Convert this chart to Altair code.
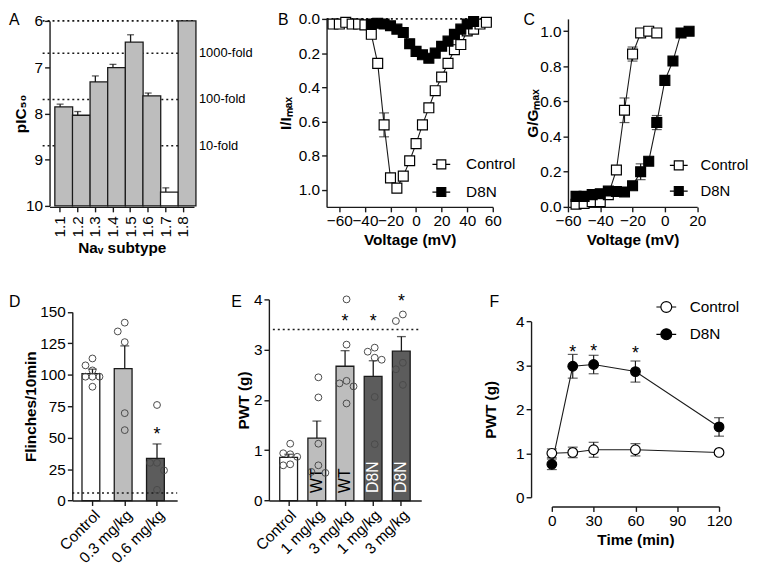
import altair as alt
import pandas as pd

FONT = "Liberation Sans"
INK = "#1a1a1a"
LIGHT = "#bdbdbd"
DARK = "#5c5c5c"

# ---------------- data ----------------
# A: NaV subtype selectivity
nav_subtypes = ["1.1", "1.2", "1.3", "1.4", "1.5", "1.6", "1.7", "1.8"]
nav_pic50 = [7.86, 8.04, 7.32, 7.01, 6.46, 7.62, 9.70, 6.00]
nav_sem = [0.06, 0.08, 0.13, 0.07, 0.16, 0.06, 0.09, 0.0]
fold_levels = [6.0, 6.7, 7.7, 8.7]
fold_labels = ["", "1000-fold", "100-fold", "10-fold"]

# B: I/V relationship
iv_volt_ctrl = [-65, -60, -55, -50, -45, -40, -35, -30, -25, -20, -15, -10, -5,
                0, 5, 10, 15, 20, 25, 30, 35, 40, 45, 50, 55]
iv_ctrl = [0.03, 0.03, 0.02, 0.03, 0.03, 0.035, 0.09, 0.26, 0.62, 0.93, 0.99, 0.92, 0.83,
           0.73, 0.62, 0.52, 0.42, 0.34, 0.26, 0.18, 0.15, 0.07, 0.06, 0.03, 0.02]
iv_ctrl_sem = [0, 0, 0, 0, 0, 0, 0, 0.02, 0.07, 0.02, 0, 0, 0,
               0, 0, 0, 0, 0, 0, 0, 0, 0, 0, 0, 0]
iv_volt_d8n = [-35, -30, -25, -20, -15, -10, -5, 0, 5, 10, 15, 20, 25, 30, 35, 40, 45]
iv_d8n = [0.03, 0.025, 0.03, 0.04, 0.06, 0.08, 0.145, 0.19, 0.21, 0.23, 0.20, 0.16,
          0.13, 0.09, 0.06, 0.03, 0.015]
iv_d8n_sem = [0, 0, 0, 0, 0, 0, 0, 0, 0, 0, 0, 0, 0, 0, 0, 0, 0]

# C: G/V relationship
gv_volt_ctrl = [-55, -50, -45, -40, -35, -30, -25, -20, -15, -10, -5]
gv_ctrl = [0.015, 0.02, 0.03, 0.03, 0.07, 0.21, 0.55, 0.87, 0.99, 1.0, 0.99]
gv_ctrl_sem = [0, 0, 0, 0, 0, 0.02, 0.07, 0.04, 0, 0, 0]
gv_volt_d8n = [-55, -50, -45, -40, -35, -30, -25, -20, -15, -10, -5, 0, 5, 10, 15]
gv_d8n = [0.06, 0.06, 0.07, 0.075, 0.09, 0.088, 0.085, 0.12, 0.20, 0.26, 0.48, 0.72,
          0.83, 0.99, 1.0]
gv_d8n_sem = [0, 0, 0, 0, 0, 0, 0, 0, 0.045, 0, 0.04, 0.02, 0, 0, 0]

# D: flinches
flinch_groups = ["Control", "0.3 mg/kg", "0.6 mg/kg"]
flinch_mean = [101, 105, 33.5]
flinch_sem = [3.5, 18, 11.5]
flinch_points = [[113, 107.5, 103.5, 98.5, 98.5, 98.5, 90.5],
                 [141.5, 134.5, 126, 69.5, 56],
                 [76, 30, 30, 24, 8.5]]
flinch_star_groups = ["0.6 mg/kg"]
flinch_star_y = [52]
flinch_baseline = 6

# E: PWT dose
pwt_keys = ["Control", "WT 1", "WT 3", "D8N 1", "D8N 3"]
pwt_labels = ["Control", "1 mg/kg", "3 mg/kg", "1 mg/kg", "3 mg/kg"]
pwt_geno = ["Control", "WT", "WT", "D8N", "D8N"]
pwt_mean = [0.86, 1.24, 2.67, 2.47, 2.97]
pwt_sem = [0.06, 0.34, 0.31, 0.31, 0.29]
pwt_points = [[1.13, 0.94, 0.92, 0.87, 0.72, 0.70],
              [2.45, 2.05, 1.13, 0.70, 0.57, 0.55],
              [4.0, 3.1, 2.38, 2.33, 2.27, 1.93],
              [3.04, 2.96, 2.84, 2.80, 2.06, 1.12],
              [3.70, 3.57, 2.74, 2.61, 2.30]]
pwt_star_keys = ["WT 3", "D8N 1", "D8N 3"]
pwt_star_y = [3.54, 3.54, 3.95]
pwt_baseline = 3.4

# F: time course
time_min = [0, 15, 30, 60, 120]
tc_ctrl = [1.0, 1.02, 1.08, 1.08, 1.02]
tc_ctrl_sem = [0.10, 0.12, 0.17, 0.14, 0.04]
tc_d8n = [0.75, 2.98, 3.02, 2.86, 1.60]
tc_d8n_sem = [0.12, 0.27, 0.21, 0.24, 0.21]
tc_star_t = [15, 30, 60]
tc_star_y = [3.27, 3.31, 3.25]


# ---------------- helpers ----------------
def letter(ch, dx, dy):
    return alt.Chart(pd.DataFrame({"t": [ch]})).mark_text(
        align="left", baseline="top", fontSize=16, font=FONT, color="black"
    ).encode(text="t:N", x=alt.value(dx), y=alt.value(dy))


def swarm(values, px_per_unit, min_px=10.0):
    order = sorted(range(len(values)), key=lambda i: -values[i])
    placed = []
    slots = ["C"] * len(values)
    for i in order:
        for s in ["C", "L", "R"]:
            ok = all(not (ps == s and abs(values[i] - pv) * px_per_unit < min_px)
                     for pv, ps in placed)
            if ok:
                slots[i] = s
                break
        placed.append((values[i], slots[i]))
    return slots


def series_df(volts, vals, sems, name):
    df = pd.DataFrame({"v": volts, "val": vals, "sem": sems})
    df["series"] = name
    df["lo"] = df["val"] - df["sem"]
    df["hi"] = df["val"] + df["sem"]
    return df


def xy_layers(df, X, Y, legend, shape, size, cap):
    base = alt.Chart(df)
    line = base.mark_line(color=INK, strokeWidth=1.1).encode(
        x=X("v:Q"), y=Y("val:Q"), detail="series:N")
    err = base.transform_filter("datum.sem > 0").mark_rule(
        color=INK, strokeWidth=1.2).encode(x=X("v:Q"), y=Y("lo:Q"), y2="hi:Q")
    caps = base.transform_filter("datum.sem > 0").transform_fold(
        ["lo", "hi"], as_=["end", "cy"]).mark_tick(
        color=INK, thickness=1.2, size=cap, orient="horizontal").encode(
        x=X("v:Q"), y=Y("cy:Q"))
    pts = base.mark_point(shape=shape, filled=True, size=size, stroke="black",
                          strokeWidth=1.2, opacity=1).encode(
        x=X("v:Q"), y=Y("val:Q"),
        fill=alt.Fill("series:N", scale=alt.Scale(domain=["Control", "D8N"],
                                                  range=["white", "black"]),
                      legend=legend))
    return [line, err, caps, pts]


def make_legend(x, y, path, size, offset, rowpad, fs=15.5):
    return alt.Legend(title=None, orient="none", legendX=x, legendY=y,
                      symbolType=path, symbolSize=size, symbolStrokeColor="black",
                      symbolStrokeWidth=1.2, labelFont=FONT, labelFontSize=fs,
                      labelColor="black", labelOffset=offset, rowPadding=rowpad,
                      padding=0)


def yaxis(values, title, tx, fmt=None):
    kw = dict(values=values, title=title, titleX=tx, titleBaseline="middle")
    if fmt:
        kw["format"] = fmt
    return alt.Axis(**kw)


SQ_PATH = "M-1,0H-0.5M0.5,0H1M-0.5,-0.5H0.5V0.5H-0.5Z"
CI_PATH = ("M-1,0H-0.55M0.55,0H1M0.55,0A0.55,0.55,0,1,1,-0.55,0"
           "A0.55,0.55,0,1,1,0.55,0Z")
TOP_LETTER_Y = -7
BOT_LETTER_Y = -5

# ---------------- Panel A ----------------
WA, HA = 146, 190
dfA = pd.DataFrame({"subtype": nav_subtypes, "pic50": nav_pic50, "sem": nav_sem})
dfA["top"] = dfA["pic50"] - dfA["sem"]
dfA["kind"] = ["sel" if s == "1.7" else "other" for s in nav_subtypes]
dfFold = pd.DataFrame({"level": fold_levels, "label": fold_labels})

xA = alt.X("subtype:N", sort=nav_subtypes,
           scale=alt.Scale(paddingInner=0.4, paddingOuter=0.3),
           axis=alt.Axis(title="Naᵥ subtype", labelAngle=270, labelPadding=4))


def YA(f):
    return alt.Y(f, scale=alt.Scale(domain=[6, 10], range=[2, 189], nice=False, zero=False),
                 axis=yaxis([6, 7, 8, 9, 10], "pIC₅₀", -29, "d"))


foldRule = alt.Chart(dfFold).mark_rule(strokeDash=[2, 3], strokeWidth=1.6, color=INK).encode(
    y=YA("level:Q"), x=alt.value(-7), x2=alt.value(WA + 2))
foldText = alt.Chart(dfFold).mark_text(align="left", baseline="middle", fontSize=13,
                                       font=FONT, color="black").encode(
    y=YA("level:Q"), x=alt.value(WA + 5), text="label:N")
barsA = alt.Chart(dfA).mark_bar(stroke=INK, strokeWidth=1.3).encode(
    x=xA, y=YA("pic50:Q"), y2=alt.datum(10),
    fill=alt.Fill("kind:N", scale=alt.Scale(domain=["sel", "other"], range=["white", LIGHT]),
                  legend=None))
errA = alt.Chart(dfA).transform_filter("datum.sem > 0").mark_rule(
    color=INK, strokeWidth=1.3).encode(x=xA, y=YA("pic50:Q"), y2="top:Q")
capA = alt.Chart(dfA).transform_filter("datum.sem > 0").mark_tick(
    color=INK, thickness=1.3, size=7).encode(x=xA, y=YA("top:Q"))
panelA = alt.layer(foldRule, foldText, barsA, errA, capA,
                   letter("A", -41, TOP_LETTER_Y)).properties(width=WA, height=HA)

# ---------------- Panel B ----------------
WB, HB = 168, 190
dfB = pd.concat([series_df(iv_volt_ctrl, iv_ctrl, iv_ctrl_sem, "Control"),
                 series_df(iv_volt_d8n, iv_d8n, iv_d8n_sem, "D8N")], ignore_index=True)


def XB(f):
    return alt.X(f, scale=alt.Scale(domain=[-70, 60], nice=False, zero=False),
                 axis=alt.Axis(values=[-60, -40, -20, 0, 20, 40, 60], title="Voltage (mV)"))


def YB(f):
    return alt.Y(f, scale=alt.Scale(domain=[0, 1.1], range=[0, HB], nice=False),
                 axis=yaxis([0, 0.2, 0.4, 0.6, 0.8, 1.0], "I/Iₘₐₓ", -41, ".1f"))


zeroB = alt.Chart(pd.DataFrame({"z": [0.0]})).mark_rule(
    strokeDash=[2, 3], strokeWidth=1.6, color=INK).encode(
    y=YB("z:Q"), x=alt.value(0), x2=alt.value(WB))
legB = make_legend(106, 137, SQ_PATH, 324, 15, 9)
panelB = alt.layer(zeroB, *xy_layers(dfB, XB, YB, legB, "square", 100, 10),
                   letter("B", -49, TOP_LETTER_Y)).properties(width=WB, height=HB)

# ---------------- Panel C ----------------
WC, HC = 130.6, 190
dfC = pd.concat([series_df(gv_volt_ctrl, gv_ctrl, gv_ctrl_sem, "Control"),
                 series_df(gv_volt_d8n, gv_d8n, gv_d8n_sem, "D8N")], ignore_index=True)


def XC(f):
    return alt.X(f, scale=alt.Scale(domain=[-60, 20], nice=False, zero=False),
                 axis=alt.Axis(values=[-60, -40, -20, 0, 20], title="Voltage (mV)"))


def YC(f):
    return alt.Y(f, scale=alt.Scale(domain=[0, 1.07], nice=False),
                 axis=yaxis([0, 0.2, 0.4, 0.6, 0.8, 1.0], "G/Gₘₐₓ", -36, ".1f"))


legC = make_legend(102, 138, SQ_PATH, 324, 12, 8, fs=15)
panelC = alt.layer(*xy_layers(dfC, XC, YC, legC, "square", 100, 10),
                   letter("C", -45, TOP_LETTER_Y)).properties(width=WC, height=HC)

# ---------------- Panel D ----------------
WD, HD = 106, 203.3
dfD = pd.DataFrame({"group": flinch_groups, "mean": flinch_mean, "sem": flinch_sem})
dfD["top"] = dfD["mean"] + dfD["sem"]
rowsD = []
for g, vals in zip(flinch_groups, flinch_points):
    for v, s in zip(vals, swarm(vals, 1.27)):
        rowsD.append({"group": g, "val": v, "slot": s})
dfDp = pd.DataFrame(rowsD)

xD = alt.X("group:N", sort=flinch_groups,
           scale=alt.Scale(paddingInner=0.35, paddingOuter=0.3),
           axis=alt.Axis(title=None, labelAngle=315))


def YD(f):
    return alt.Y(f, scale=alt.Scale(domain=[0, 150], range=[HD, 12.7], nice=False),
                 axis=yaxis([0, 25, 50, 75, 100, 125, 150], "Flinches/10min", -42))


barsD = alt.Chart(dfD).mark_bar(stroke=INK, strokeWidth=1.3).encode(
    x=xD, y=YD("mean:Q"),
    fill=alt.Fill("group:N", scale=alt.Scale(domain=flinch_groups,
                                             range=["white", LIGHT, DARK]), legend=None))
errD = alt.Chart(dfD).mark_rule(color=INK, strokeWidth=1.3).encode(
    x=xD, y=YD("mean:Q"), y2="top:Q")
capD = alt.Chart(dfD).mark_tick(color=INK, thickness=1.3, size=9).encode(x=xD, y=YD("top:Q"))
ptsD = alt.Chart(dfDp).mark_point(shape="circle", size=48, color="#4a4a4a", strokeWidth=1,
                                  filled=False, opacity=1).encode(
    x=xD, xOffset=alt.XOffset("slot:N", scale=alt.Scale(domain=["L", "C", "R"])),
    y=YD("val:Q"))
starD = alt.Chart(pd.DataFrame({"group": flinch_star_groups, "sy": flinch_star_y})).mark_text(
    text="*", fontSize=18, font=FONT, color="black", baseline="middle").encode(
    x=xD, y=YD("sy:Q"))
baseD = alt.Chart(pd.DataFrame({"b": [flinch_baseline]})).mark_rule(
    strokeDash=[2, 3], strokeWidth=1.6, color=INK).encode(
    y=YD("b:Q"), x=alt.value(0), x2=alt.value(WD))
panelD = alt.layer(barsD, baseD, errD, capD, ptsD, starD,
                   letter("D", -64, BOT_LETTER_Y)).properties(width=WD, height=HD)

# ---------------- Panel E ----------------
WE, HE = 154, 203.3
dfE = pd.DataFrame({"key": pwt_keys, "geno": pwt_geno, "mean": pwt_mean, "sem": pwt_sem})
dfE["top"] = dfE["mean"] + dfE["sem"]
rowsE = []
for k, vals in zip(pwt_keys, pwt_points):
    for v, s in zip(vals, swarm(vals, 50.8)):
        rowsE.append({"key": k, "val": v, "slot": s})
dfEp = pd.DataFrame(rowsE)

label_expr = "{}[indexof({}, datum.value)]".format(
    "[" + ",".join("'%s'" % s for s in pwt_labels) + "]",
    "[" + ",".join("'%s'" % s for s in pwt_keys) + "]")
xE = alt.X("key:N", sort=pwt_keys,
           scale=alt.Scale(paddingInner=0.36, paddingOuter=0.385),
           axis=alt.Axis(title=None, labelAngle=315, labelExpr=label_expr))


def YE(f):
    return alt.Y(f, scale=alt.Scale(domain=[0, 4], range=[HE, 0], nice=False),
                 axis=yaxis([0, 1, 2, 3, 4], "PWT (g)", -26))


barsE = alt.Chart(dfE).mark_bar(stroke=INK, strokeWidth=1.3).encode(
    x=xE, y=YE("mean:Q"),
    fill=alt.Fill("geno:N", scale=alt.Scale(domain=["Control", "WT", "D8N"],
                                            range=["white", LIGHT, DARK]), legend=None))
errE = alt.Chart(dfE).mark_rule(color=INK, strokeWidth=1.3).encode(
    x=xE, y=YE("mean:Q"), y2="top:Q")
capE = alt.Chart(dfE).mark_tick(color=INK, thickness=1.3, size=9).encode(x=xE, y=YE("top:Q"))
ptsE = alt.Chart(dfEp).mark_point(shape="circle", size=48, color="#4a4a4a", strokeWidth=1,
                                  filled=False, opacity=1).encode(
    x=xE, xOffset=alt.XOffset("slot:N", scale=alt.Scale(domain=["L", "C", "R"])),
    y=YE("val:Q"))
txtWT = alt.Chart(dfE[dfE["geno"] == "WT"]).mark_text(
    angle=270, align="left", baseline="middle", fontSize=16, font=FONT, color="black").encode(
    x=xE, y=YE("tb:Q"), text="geno:N").transform_calculate(tb="0.15")
txtD8N = alt.Chart(dfE[dfE["geno"] == "D8N"]).mark_text(
    angle=270, align="left", baseline="middle", fontSize=16, font=FONT, color="white").encode(
    x=xE, y=YE("tb:Q"), text="geno:N").transform_calculate(tb="0.15")
starE = alt.Chart(pd.DataFrame({"key": pwt_star_keys, "sy": pwt_star_y})).mark_text(
    text="*", fontSize=18, font=FONT, color="black", baseline="middle").encode(
    x=xE, y=YE("sy:Q"))
baseE = alt.Chart(pd.DataFrame({"b": [pwt_baseline]})).mark_rule(
    strokeDash=[2, 3], strokeWidth=1.6, color=INK).encode(
    y=YE("b:Q"), x=alt.value(4), x2=alt.value(WE - 3))
panelE = alt.layer(barsE, baseE, errE, capE, txtWT, txtD8N, ptsE, starE,
                   letter("E", -38, BOT_LETTER_Y)).properties(width=WE, height=HE)

# ---------------- Panel F ----------------
WF, HF = 190, 203.3
dfF = pd.concat([series_df(time_min, tc_ctrl, tc_ctrl_sem, "Control"),
                 series_df(time_min, tc_d8n, tc_d8n_sem, "D8N")], ignore_index=True)


def XF(f):
    return alt.X(f, scale=alt.Scale(domain=[0, 120], range=[21, WF], nice=False),
                 axis=alt.Axis(values=[0, 30, 60, 90, 120], title="Time (min)", offset=6))


def YF(f):
    return alt.Y(f, scale=alt.Scale(domain=[0, 4], range=[HF - 3.3, 22.3], nice=False),
                 axis=yaxis([0, 1, 2, 3, 4], "PWT (g)", -41))


legF = make_legend(125.7, -3.3, CI_PATH, 400, 12.6, 7.6)
starF = alt.Chart(pd.DataFrame({"v": tc_star_t, "sy": tc_star_y})).mark_text(
    text="*", fontSize=18, font=FONT, color="black", baseline="middle").encode(
    x=XF("v:Q"), y=YF("sy:Q"))
panelF = alt.layer(*xy_layers(dfF, XF, YF, legF, "circle", 95, 10), starF,
                   letter("F", -42, BOT_LETTER_Y)).properties(width=WF, height=HF)

# ---------------- assembly ----------------
spacer = alt.Chart(pd.DataFrame({"a": [0]})).mark_point(opacity=0, size=1).encode(
    x=alt.value(0), y=alt.value(0)).properties(width=23, height=HD)


def indep(c):
    return c.resolve_scale(fill="independent").resolve_legend(fill="independent")


top = indep(alt.hconcat(panelA, indep(alt.hconcat(panelB, panelC, spacing=76, bounds="flush")),
                        spacing=134, bounds="flush"))
bottom = indep(alt.hconcat(
    spacer,
    indep(alt.hconcat(panelD, indep(alt.hconcat(panelE, panelF, spacing=111, bounds="flush")),
                      spacing=92.7, bounds="flush")),
    spacing=0, bounds="flush"))

chart = indep(alt.vconcat(top, bottom, spacing=34.5, bounds="full")).properties(
    padding=0
).configure(font=FONT, padding=0).configure_axis(
    labelFont=FONT, titleFont=FONT, labelFontSize=15.5, titleFontSize=15.5,
    titleFontWeight="bold", labelColor="black", titleColor="black",
    domainColor=INK, tickColor=INK, domainWidth=1.4, tickWidth=1.4, tickSize=5,
    labelPadding=2, grid=False, titlePadding=4, labelOverlap=False, labelFlush=False
).configure_view(stroke="transparent")

chart.save("out.html", embed_options={"renderer": "svg", "actions": False})
